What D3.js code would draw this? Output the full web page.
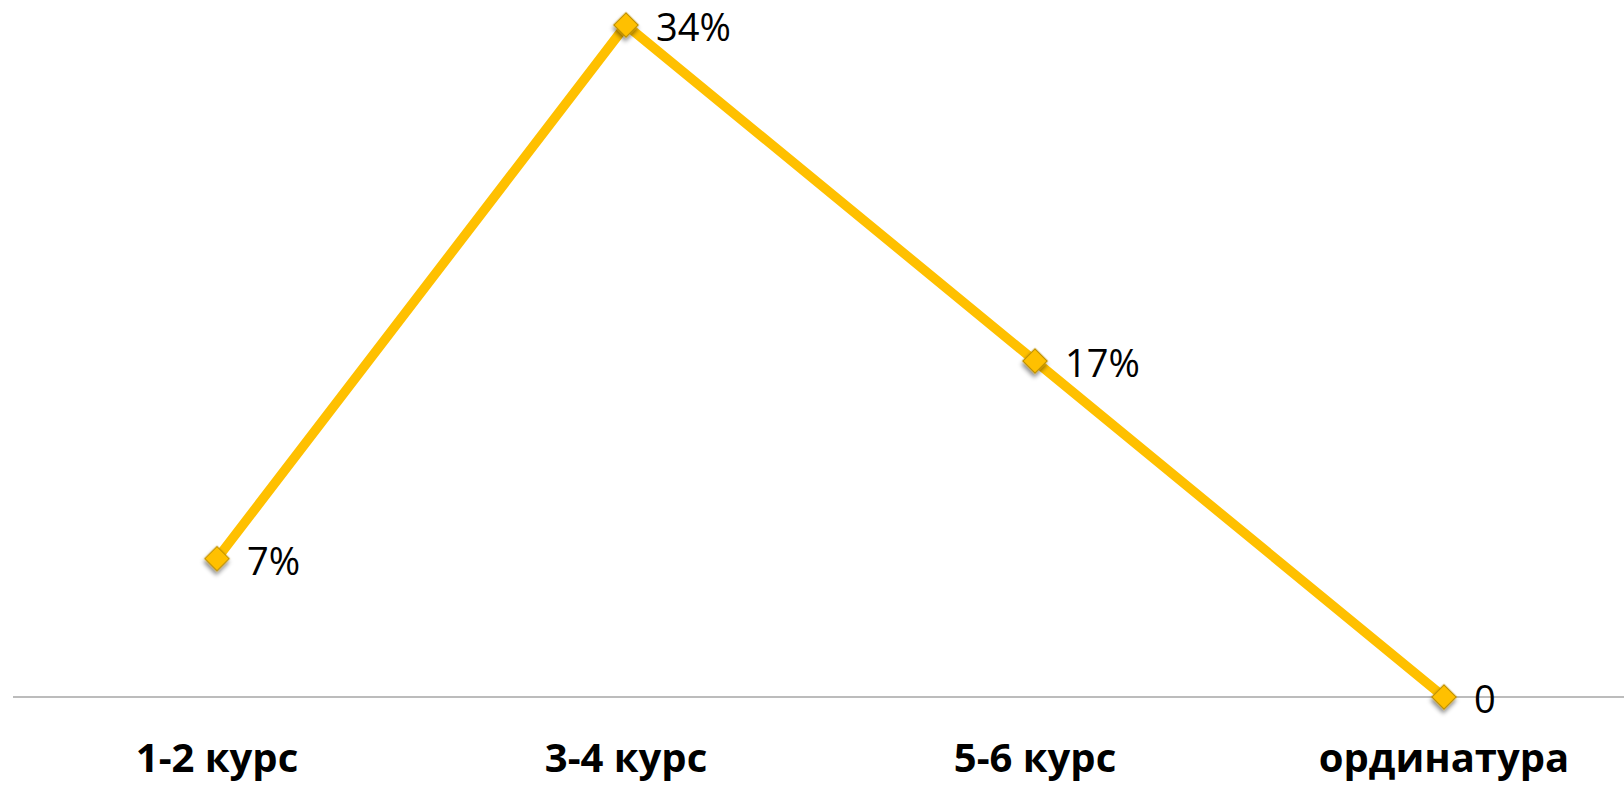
<!DOCTYPE html>
<html>
<head>
<meta charset="utf-8">
<script src="https://cdn.jsdelivr.net/npm/d3@7"></script>
<style>
  body { margin: 0; background: #fff; }
  svg { display: block; }
</style>
</head>
<body>
<div id="chart"></div>
<script>
// data
const categories = ["1-2 курс", "3-4 курс", "5-6 курс", "ординатура"];
const values = [7, 34, 17, 0];
const valueLabels = ["7%", "34%", "17%", "0"];

let width = 1624;
let height = 785;
let lineColour = "#FFC000";
let markerStroke = "#C09100";

let svg = d3.select("#chart").append("svg")
    .attr("width", width)
    .attr("height", height);

//drop shadow for the markers
let defs = svg.append("defs");
let filter = defs.append("filter")
    .attr("id", "shadow")
    .attr("x", "-50%").attr("y", "-50%")
    .attr("width", "200%").attr("height", "200%");
filter.append("feDropShadow")
    .attr("dx", 2).attr("dy", 3)
    .attr("stdDeviation", 2)
    .attr("flood-color", "#000")
    .attr("flood-opacity", 0.45);

let x = d3.scalePoint()
    .domain(categories)
    .range([217, 1444]);

let y = d3.scaleLinear()
    .domain([0, 34])
    .range([697, 25]);

//horizontal axis line
svg.append("line")
    .attr("x1", 13).attr("x2", width)
    .attr("y1", y(0)).attr("y2", y(0))
    .style("stroke", "#a6a6a6")
    .style("stroke-width", 1.5);

//category labels
svg.append("g").selectAll("text")
    .data(categories)
    .join("text")
    .attr("x", d => x(d))
    .attr("y", 772)
    .attr("text-anchor", "middle")
    .style("font-family", "'Open Sans', 'Noto Sans', sans-serif")
    .style("font-weight", "bold")
    .style("font-size", "40px")
    .style("fill", "#000")
    .text(d => d);

let points = categories.map((c, i) => ({cat: c, value: values[i], label: valueLabels[i]}));

//the line itself
let line = d3.line()
    .x(d => x(d.cat))
    .y(d => y(d.value));

svg.append("path")
    .datum(points)
    .attr("d", line)
    .style("fill", "none")
    .style("stroke", lineColour)
    .style("stroke-width", 9.5)
    .style("stroke-linejoin", "round");

//diamond markers
let symbol = d3.symbol().type(d3.symbolSquare).size(300);
svg.append("g").selectAll("path")
    .data(points)
    .join("path")
    .attr("d", symbol)
    .attr("transform", d => "translate(" + x(d.cat) + "," + y(d.value) + ") rotate(45)")
    .attr("filter", "url(#shadow)")
    .style("fill", lineColour)
    .style("stroke", markerStroke)
    .style("stroke-width", 1.2);

//data labels
svg.append("g").selectAll("text")
    .data(points)
    .join("text")
    .attr("x", d => x(d.cat) + 30)
    .attr("y", d => y(d.value) + 16)
    .style("font-family", "'Open Sans', 'Noto Sans', sans-serif")
    .style("font-size", "38px")
    .style("fill", "#000")
    .text(d => d.label);
</script>
</body>
</html>
